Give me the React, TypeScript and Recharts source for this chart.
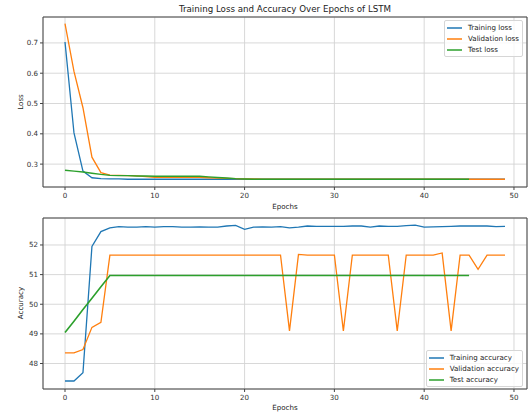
import React from 'react'
import { LineChart, Line, XAxis, YAxis, CartesianGrid, ReferenceArea } from 'recharts'

const epochs = Array.from({ length: 50 }, (_, i) => i)

const trainLoss = [0.703, 0.403, 0.277, 0.255, 0.252, 0.251, 0.251, 0.25, 0.25, 0.25,
  0.25, 0.25, 0.25, 0.25, 0.25, 0.25, 0.25, 0.25, 0.25, 0.25,
  0.25, 0.25, 0.25, 0.25, 0.25, 0.25, 0.25, 0.25, 0.25, 0.25,
  0.25, 0.25, 0.25, 0.25, 0.25, 0.25, 0.25, 0.25, 0.25, 0.25,
  0.25, 0.25, 0.25, 0.25, 0.25, 0.25, 0.25, 0.25, 0.25, 0.25]
const valLoss = [0.764, 0.606, 0.486, 0.323, 0.272, 0.264, 0.263, 0.262, 0.261, 0.259,
  0.256, 0.256, 0.256, 0.256, 0.256, 0.256, 0.255, 0.254, 0.253, 0.252,
  0.251, 0.251, 0.25, 0.25, 0.25, 0.25, 0.25, 0.25, 0.25, 0.25,
  0.25, 0.25, 0.25, 0.25, 0.25, 0.25, 0.25, 0.25, 0.25, 0.25,
  0.25, 0.25, 0.25, 0.25, 0.25, 0.25, 0.25, 0.25, 0.25, 0.25]
const testLoss = [0.28, 0.277, 0.274, 0.27, 0.266, 0.263, 0.262, 0.262, 0.261, 0.261,
  0.26, 0.26, 0.26, 0.26, 0.26, 0.26, 0.258, 0.256, 0.254, 0.252,
  0.251, 0.25, 0.25, 0.25, 0.25, 0.25, 0.25, 0.25, 0.25, 0.25,
  0.25, 0.25, 0.25, 0.25, 0.25, 0.25, 0.25, 0.25, 0.25, 0.25,
  0.25, 0.25, 0.25, 0.25, 0.25, 0.25]

const trainAcc = [47.41, 47.41, 47.69, 51.95, 52.45, 52.58, 52.62, 52.6, 52.6, 52.62,
  52.6, 52.62, 52.62, 52.6, 52.6, 52.61, 52.6, 52.6, 52.64, 52.66,
  52.53, 52.6, 52.61, 52.6, 52.62, 52.58, 52.6, 52.64, 52.63, 52.63,
  52.63, 52.63, 52.64, 52.64, 52.6, 52.64, 52.63, 52.63, 52.65, 52.67,
  52.6, 52.61, 52.62, 52.63, 52.64, 52.64, 52.64, 52.64, 52.62, 52.63]
const valAcc = [48.36, 48.36, 48.47, 49.22, 49.39, 51.66, 51.66, 51.66, 51.66, 51.66,
  51.66, 51.66, 51.66, 51.66, 51.66, 51.66, 51.66, 51.66, 51.66, 51.66,
  51.66, 51.66, 51.66, 51.66, 51.66, 49.1, 51.68, 51.66, 51.66, 51.66,
  51.66, 49.1, 51.66, 51.66, 51.66, 51.66, 51.66, 49.1, 51.66, 51.66,
  51.66, 51.66, 51.73, 49.1, 51.66, 51.66, 51.18, 51.66, 51.66, 51.66]
const testAcc = [49.05, 49.43, 49.82, 50.2, 50.59, 50.97, 50.97, 50.97, 50.97, 50.97,
  50.97, 50.97, 50.97, 50.97, 50.97, 50.97, 50.97, 50.97, 50.97, 50.97,
  50.97, 50.97, 50.97, 50.97, 50.97, 50.97, 50.97, 50.97, 50.97, 50.97,
  50.97, 50.97, 50.97, 50.97, 50.97, 50.97, 50.97, 50.97, 50.97, 50.97,
  50.97, 50.97, 50.97, 50.97, 50.97, 50.97]

const xTicks = [0, 10, 20, 30, 40, 50]
const lossTicks = [0.3, 0.4, 0.5, 0.6, 0.7]
const accTicks = [48, 49, 50, 51, 52]

const lossData = epochs.map((e, i) => ({ epoch: e, train: trainLoss[i], val: valLoss[i], test: testLoss[i] }))
const accData = epochs.map((e, i) => ({ epoch: e, train: trainAcc[i], val: valAcc[i], test: testAcc[i] }))

const BLUE = '#1f77b4'
const ORANGE = '#ff7f0e'
const GREEN = '#2ca02c'
const FONT = 'DejaVu Sans'
const FS = 7.1
const tick = { fill: '#333', fontSize: FS, fontFamily: FONT }
const X_DOMAIN: [number, number] = [-2.45, 51.45]

const LegendBox = ({ items, style }: { items: { name: string; color: string }[]; style: React.CSSProperties }) => (
  <div style={{
    position: 'absolute', background: 'rgba(255,255,255,0.8)', border: '1px solid #d6d6d6',
    borderRadius: 2, padding: '1px 3px 1px 2px', fontFamily: FONT, fontSize: FS, color: '#222',
    whiteSpace: 'nowrap', ...style,
  }}>
    {items.map((it) => (
      <div key={it.name} style={{ display: 'flex', alignItems: 'center', height: 11 }}>
        <span style={{ display: 'inline-block', width: 15, height: 2, background: it.color, marginRight: 6, opacity: 0.75 }} />
        <span>{it.name}</span>
      </div>
    ))}
  </div>
)

const text = (s: string, style: React.CSSProperties, size = FS) => (
  <div style={{ position: 'absolute', fontFamily: FONT, fontSize: size, color: '#222', whiteSpace: 'nowrap', ...style }}>{s}</div>
)

export default function App() {
  return (
    <div style={{ position: 'absolute', left: 0, top: 0, width: 532, height: 415, background: '#fff' }}>
      {text('Training Loss and Accuracy Over Epochs of LSTM', { left: 0, width: 570, top: 4, textAlign: 'center' }, 8.7)}

      <div style={{ position: 'absolute', left: 0, top: 0 }}>
        <LineChart width={532} height={200} data={lossData} margin={{ top: 17, right: 5, bottom: 0, left: 0 }}>
          <CartesianGrid stroke="#d4d4d4" strokeWidth={0.9} />
          <XAxis dataKey="epoch" type="number" domain={X_DOMAIN} ticks={xTicks} allowDataOverflow
            height={13} tickSize={3} tickMargin={3} tick={tick} axisLine={false} tickLine={{ stroke: '#444' }} />
          <YAxis type="number" domain={[0.2245, 0.7855]} ticks={lossTicks} allowDataOverflow width={43}
            tickSize={3} tickMargin={2} tick={tick} axisLine={false} tickLine={{ stroke: '#444' }}
            tickFormatter={(v: number) => v.toFixed(1)} />
          <Line dataKey="train" stroke={BLUE} strokeWidth={1.3} dot={false} isAnimationActive={false} />
          <Line dataKey="val" stroke={ORANGE} strokeWidth={1.3} dot={false} isAnimationActive={false} />
          <Line dataKey="test" stroke={GREEN} strokeWidth={1.4} dot={false} isAnimationActive={false} />
          <ReferenceArea x1={X_DOMAIN[0]} x2={X_DOMAIN[1]} y1={0.2245} y2={0.7855} fill="none" stroke="#444" strokeWidth={1} />
        </LineChart>
      </div>
      {text('Epochs', { left: 285, top: 202, transform: 'translateX(-50%)' })}
      {text('Loss', { left: 20, top: 102, transform: 'translate(-50%, -50%) rotate(-90deg)' })}
      <LegendBox style={{ right: 9, top: 20 }} items={[
        { name: 'Training loss', color: BLUE },
        { name: 'Validation loss', color: ORANGE },
        { name: 'Test loss', color: GREEN },
      ]} />

      <div style={{ position: 'absolute', left: 0, top: 200 }}>
        <LineChart width={532} height={215} data={accData} margin={{ top: 18, right: 5, bottom: 0, left: 0 }}>
          <CartesianGrid stroke="#d4d4d4" strokeWidth={0.9} />
          <XAxis dataKey="epoch" type="number" domain={X_DOMAIN} ticks={xTicks} allowDataOverflow
            height={26} tickSize={3} tickMargin={3} tick={tick} axisLine={false} tickLine={{ stroke: '#444' }} />
          <YAxis type="number" domain={[47.14, 52.91]} ticks={accTicks} allowDataOverflow width={43}
            tickSize={3} tickMargin={2} tick={tick} axisLine={false} tickLine={{ stroke: '#444' }} />
          <Line dataKey="train" stroke={BLUE} strokeWidth={1.3} dot={false} isAnimationActive={false} />
          <Line dataKey="val" stroke={ORANGE} strokeWidth={1.3} dot={false} isAnimationActive={false} />
          <Line dataKey="test" stroke={GREEN} strokeWidth={1.6} dot={false} isAnimationActive={false} />
          <ReferenceArea x1={X_DOMAIN[0]} x2={X_DOMAIN[1]} y1={47.14} y2={52.91} fill="none" stroke="#444" strokeWidth={1} />
        </LineChart>
      </div>
      {text('Epochs', { left: 285, top: 403, transform: 'translateX(-50%)' })}
      {text('Accuracy', { left: 20, top: 303, transform: 'translate(-50%, -50%) rotate(-90deg)' })}
      <LegendBox style={{ right: 9, top: 350 }} items={[
        { name: 'Training accuracy', color: BLUE },
        { name: 'Validation accuracy', color: ORANGE },
        { name: 'Test accuracy', color: GREEN },
      ]} />
    </div>
  )
}
